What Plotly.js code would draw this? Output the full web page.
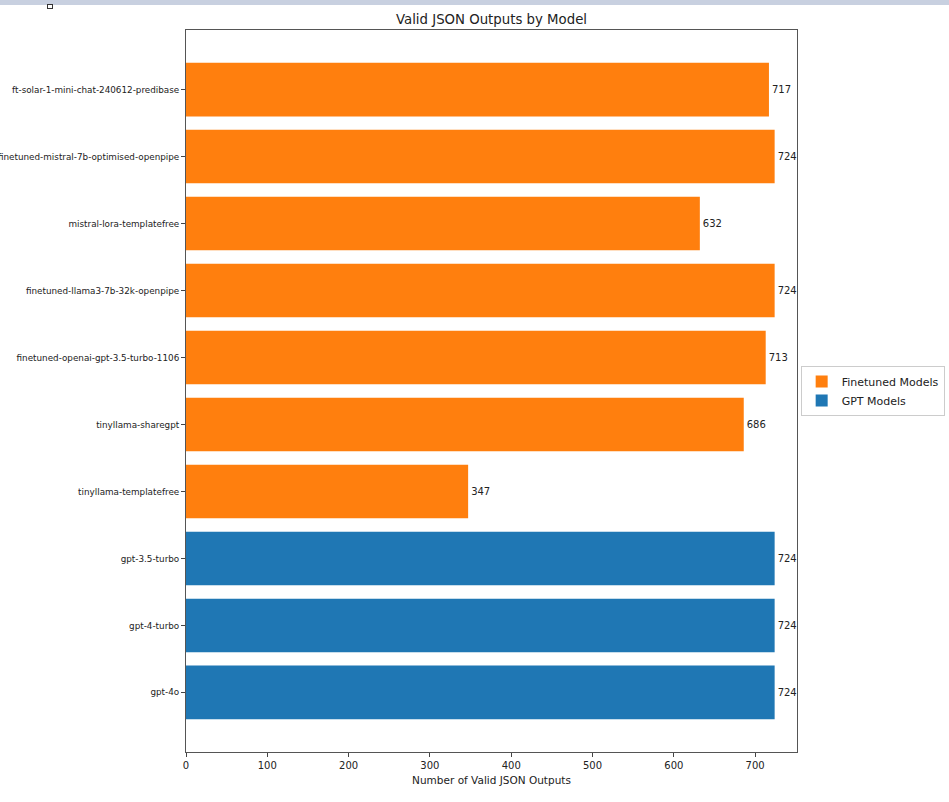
<!DOCTYPE html>
<html>
<head>
<meta charset="utf-8">
<script src="https://cdn.plot.ly/plotly-3.0.1.min.js"></script>
<style>
  body { margin: 0; background: #fff; }
  #topbar { position: absolute; left: 0; top: 0; width: 949px; height: 5px; background: #c8d0e0; z-index: 5; }
  #marker { position: absolute; left: 47px; top: 4px; width: 6px; height: 5px; border: 1px solid #333; background: #fff; box-sizing: border-box; z-index: 6; }
  #chart { width: 949px; height: 802px; }
</style>
</head>
<body>
<div id="topbar"></div>
<div id="marker"></div>
<div id="chart"></div>
<script>
// models listed bottom to top, as on the chart
const gptModels = ['gpt-4o', 'gpt-4-turbo', 'gpt-3.5-turbo'];
const gptValues = [724, 724, 724];

const finetunedModels = [
  'tinyllama-templatefree',
  'tinyllama-sharegpt',
  'finetuned-openai-gpt-3.5-turbo-1106',
  'finetuned-llama3-7b-32k-openpipe',
  'mistral-lora-templatefree',
  'finetuned-mistral-7b-optimised-openpipe',
  'ft-solar-1-mini-chat-240612-predibase'
];
const finetunedValues = [347, 686, 713, 724, 632, 724, 717];

const xTicks = [0, 100, 200, 300, 400, 500, 600, 700];

const allModels = gptModels.concat(finetunedModels);
const font = 'DejaVu Sans, Arial, sans-serif';

const finetuned = {
  type: 'bar', orientation: 'h',
  name: 'Finetuned Models',
  y: finetunedModels, x: finetunedValues,
  text: finetunedValues.map(String),
  textposition: 'outside', cliponaxis: false,
  textfont: {size: 10, color: '#222', family: font},
  marker: {color: '#ff7f0e'},
  width: 0.8,
  hoverinfo: 'x+y'
};

const gpt = {
  type: 'bar', orientation: 'h',
  name: 'GPT Models',
  y: gptModels, x: gptValues,
  text: gptValues.map(String),
  textposition: 'outside', cliponaxis: false,
  textfont: {size: 10, color: '#222', family: font},
  marker: {color: '#1f77b4'},
  width: 0.8,
  hoverinfo: 'x+y'
};

const layout = {
  width: 949, height: 802,
  margin: {l: 186, r: 152, t: 30, b: 50, autoexpand: false},
  paper_bgcolor: '#fff', plot_bgcolor: '#fff',
  font: {family: font, color: '#222'},
  showlegend: true,
  bargap: 0.2,
  title: {
    text: 'Valid JSON Outputs by Model',
    font: {size: 13.3, color: '#222', family: font},
    x: 0.5, xref: 'paper', xanchor: 'center',
    y: 1, yref: 'paper', yanchor: 'bottom', pad: {b: 6}
  },
  xaxis: {
    range: [0, 751.5],
    tickvals: xTicks,
    ticks: 'outside', ticklen: 4, tickcolor: '#444',
    tickfont: {size: 10, color: '#222'},
    showgrid: false, zeroline: false,
    showline: true, linecolor: '#555', linewidth: 1, mirror: true,
    title: {text: 'Number of Valid JSON Outputs', font: {size: 10.5, color: '#222'}, standoff: 6}
  },
  yaxis: {
    type: 'category',
    categoryorder: 'array', categoryarray: allModels,
    range: [-0.89, 9.89],
    ticks: 'outside', ticklen: 4, tickcolor: '#444',
    tickfont: {size: 8.8, color: '#222'},
    showgrid: false, zeroline: false,
    showline: true, linecolor: '#555', linewidth: 1, mirror: true
  },
  legend: {
    x: 1.006, xanchor: 'left', y: 0.5, yanchor: 'middle',
    bordercolor: '#ccc', borderwidth: 1, bgcolor: '#fff',
    font: {size: 11, color: '#222'},
    traceorder: 'normal'
  }
};

Plotly.newPlot('chart', [finetuned, gpt], layout, {displayModeBar: false, staticPlot: true});
</script>
</body>
</html>
